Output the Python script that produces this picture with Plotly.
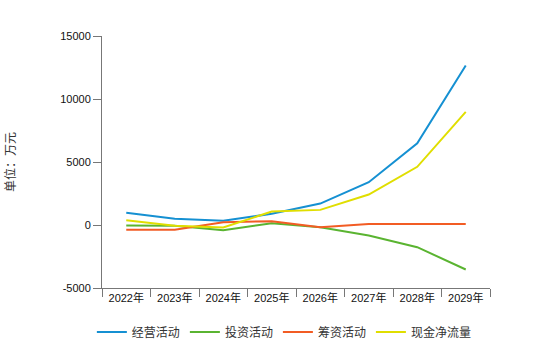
import plotly.graph_objects as go

years = ["2022年", "2023年", "2024年", "2025年", "2026年", "2027年", "2028年", "2029年"]
operating = [970, 500, 330, 890, 1700, 3400, 6490, 12660]
investing = [-30, -50, -410, 140, -170, -830, -1760, -3530]
financing = [-380, -370, 220, 300, -170, 80, 80, 80]
net_cash = [380, -50, -200, 1070, 1200, 2420, 4620, 8980]
y_ticks = [-5000, 0, 5000, 10000, 15000]

series = [
    ("经营活动", operating, "#1590D2"),
    ("投资活动", investing, "#5AB431"),
    ("筹资活动", financing, "#F25C24"),
    ("现金净流量", net_cash, "#E0DE00"),
]

fig = go.Figure()
for name, vals, color in series:
    fig.add_trace(go.Scatter(x=years, y=vals, name=name, mode="lines",
                             line=dict(color=color, width=2)))

axis_font = dict(family="Liberation Sans, Noto Sans CJK SC", size=11, color="#111")
fig.update_layout(
    width=560, height=348,
    margin=dict(l=102, r=70, t=36, b=60, autoexpand=False),
    paper_bgcolor="white", plot_bgcolor="white",
    showlegend=True,
    legend=dict(orientation="h", x=0.47, xanchor="center", y=-0.175, yanchor="middle",
                font=dict(family="Noto Sans CJK SC", size=12, color="#333"),
                itemwidth=30, tracegroupgap=0),
    xaxis=dict(type="category", range=[-0.5, 7.5], tickson="boundaries",
               ticks="outside", ticklen=8, tickcolor="#777", showline=True,
               linecolor="#777", linewidth=1, showgrid=False, zeroline=False,
               tickfont=axis_font, automargin=False),
    yaxis=dict(range=[-5000, 15000], tickvals=y_ticks,
               ticktext=[str(v) for v in y_ticks],
               ticks="outside", ticklen=8, tickcolor="#777", showline=True,
               linecolor="#777", linewidth=1, showgrid=False, zeroline=False,
               tickfont=axis_font, automargin=False),
    annotations=[dict(text="单位：万元", textangle=-90, xref="paper", yref="paper",
                      x=-0.24, y=0.5, xanchor="center", yanchor="middle",
                      showarrow=False,
                      font=dict(family="Noto Sans CJK SC", size=12, color="#333"))],
)

fig.write_html("out.html")
